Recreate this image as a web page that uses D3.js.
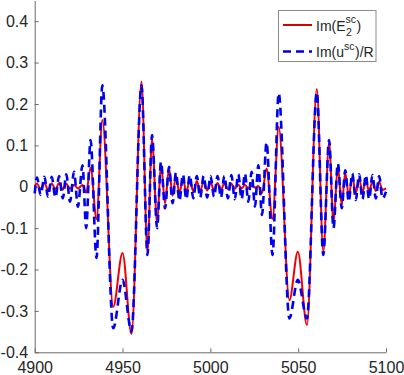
<!DOCTYPE html>
<html>
<head>
<meta charset="utf-8">
<script src="https://cdn.jsdelivr.net/npm/d3@7"></script>
<style>
  body { margin: 0; background: #fff; }
  svg { display: block; font-family: "Liberation Sans", Arial, sans-serif; }
</style>
</head>
<body>
<svg id="chart" width="404" height="375"></svg>
<script>
// x positions of the peaks / troughs
const xs = [
  4900.0, 4901.3, 4903.4, 4905.5, 4907.6, 4909.7, 4911.8, 4913.9, 4916.0, 4918.0,
  4920.1, 4922.4, 4924.6, 4927.2, 4929.3, 4931.8, 4935.2, 4938.5, 4944.7, 4950.0,
  4955.1, 4960.8, 4964.2, 4966.8, 4969.7, 4971.9, 4974.2, 4976.5, 4978.5, 4980.4,
  4982.4, 4984.4, 4986.3, 4988.3, 4990.3, 4992.3, 4994.2, 4996.2, 4998.2, 5000.1,
  5002.1, 5004.1, 5006.0, 5008.0, 5010.0, 5012.0, 5013.9, 5015.9, 5017.8, 5019.7,
  5021.6, 5023.5, 5025.4, 5027.3, 5029.4, 5032.0, 5035.4, 5038.9, 5045.0, 5049.8,
  5055.0, 5060.6, 5064.3, 5067.6, 5070.1, 5072.6, 5074.8, 5076.8, 5078.8, 5080.8,
  5082.8, 5084.7, 5086.6, 5088.5, 5090.4, 5092.3, 5094.2, 5096.1, 5098.0, 5100.0
]
// Im(E2sc)
const redVals = [
  0.002, 0.008, -0.006, 0.009, -0.007, 0.008, -0.006, 0.009, -0.007, 0.007,
  -0.005, 0.004, -0.004, 0.004, -0.014, 0.046, -0.078, 0.161, -0.290, -0.160,
  -0.356, 0.254, -0.157, 0.115, -0.088, 0.056, -0.040, 0.044, -0.022, 0.026,
  -0.016, 0.020, -0.013, 0.016, -0.012, 0.014, -0.010, 0.012, -0.009, 0.010,
  -0.008, 0.009, -0.007, 0.008, -0.006, 0.007, -0.005, 0.005, -0.004, 0.004,
  -0.003, 0.003, -0.002, 0.002, -0.016, 0.044, -0.078, 0.145, -0.274, -0.157,
  -0.334, 0.236, -0.157, 0.107, -0.088, 0.050, -0.044, 0.034, -0.022, 0.024,
  -0.016, 0.020, -0.014, 0.016, -0.012, 0.014, -0.010, 0.012, -0.008, -0.004
]
// Im(usc)/R
const blueVals = [
  -0.016, 0.022, -0.020, 0.024, -0.024, 0.024, -0.026, 0.026, -0.028, 0.030,
  -0.036, 0.036, -0.048, 0.052, -0.100, 0.113, -0.172, 0.245, -0.342, -0.225,
  -0.350, 0.245, -0.165, 0.125, -0.100, 0.060, -0.052, 0.048, -0.040, 0.034,
  -0.034, 0.030, -0.030, 0.028, -0.028, 0.026, -0.026, 0.026, -0.026, 0.026,
  -0.024, 0.026, -0.026, 0.026, -0.028, 0.028, -0.030, 0.030, -0.030, 0.032,
  -0.036, 0.036, -0.048, 0.052, -0.068, 0.107, -0.165, 0.226, -0.318, -0.225,
  -0.318, 0.228, -0.165, 0.113, -0.100, 0.056, -0.052, 0.040, -0.036, 0.032,
  -0.032, 0.030, -0.030, 0.028, -0.030, 0.028, -0.028, 0.026, -0.028, -0.012
]
const xTicks = [4900, 4950, 5000, 5050, 5100]
const yTicks = [0.4, 0.3, 0.2, 0.1, 0, -0.1, -0.2, -0.3, -0.4]
const yTickLabels = ["0.4", "0.3", "0.2", "0.1", "0", "-0.1", "-0.2", "-0.3", "-0.4"]

const svg = d3.select("#chart")
const x = d3.scaleLinear().domain([4900, 5100]).range([34.7, 386])
const y = d3.scaleLinear().domain([-0.4, 0.45]).range([352.3, 0.5])

// axes (matlab style, ticks inside)
let axisx = d3.axisBottom(x).tickValues(xTicks).tickFormat(d3.format("d"))
  .tickSizeInner(-4).tickSizeOuter(0).tickPadding(9)
let axisy = d3.axisLeft(y).tickValues(yTicks).tickFormat((d, i) => yTickLabels[i])
  .tickSizeInner(-4).tickSizeOuter(0).tickPadding(6.5)

let gx = svg.append("g").attr("transform", `translate(0,${y(-0.4)})`).call(axisx)
let gy = svg.append("g").attr("transform", `translate(${x(4900)},0)`).call(axisy)
for (let g of [gx, gy]) {
  g.select(".domain").attr("stroke", "#6b6b6b")
  g.selectAll(".tick line").attr("stroke", "#6b6b6b")
  g.selectAll("text").attr("fill", "#262626").style("font-size", "16px")
    .style("font-family", "'Liberation Sans', Arial, sans-serif")
}

// lines
let line = vals => d3.line()
  .x((d, i) => x(xs[i]))
  .y(d => y(d))
  .curve(d3.curveMonotoneX)(vals)

svg.append("path").attr("d", line(redVals))
  .attr("fill", "none").attr("stroke", "#f20000").attr("stroke-width", 2)
svg.append("path").attr("d", line(blueVals))
  .attr("fill", "none").attr("stroke", "#0000f0").attr("stroke-width", 2.6)
  .attr("stroke-dasharray", "8,5")

// legend
let lg = svg.append("g")
lg.append("rect").attr("x", 278.5).attr("y", 10.5).attr("width", 97.5).attr("height", 51)
  .attr("fill", "#fff").attr("stroke", "#8c8c8c").attr("stroke-width", 1)
lg.append("line").attr("x1", 283).attr("x2", 312).attr("y1", 25).attr("y2", 25)
  .attr("stroke", "#d40000").attr("stroke-width", 2)
lg.append("line").attr("x1", 283).attr("x2", 312).attr("y1", 51.5).attr("y2", 51.5)
  .attr("stroke", "#0000d0").attr("stroke-width", 2.6).attr("stroke-dasharray", "8,5")

let txt = (tx, ty, s, size) => lg.append("text").attr("x", tx).attr("y", ty)
  .attr("fill", "#262626").style("font-size", size + "px").text(s)

// Im(E_2^sc)
let t1 = txt(316, 30.5, "Im(E", 14)
let w1 = t1.node().getComputedTextLength()
let sup1 = txt(316 + w1, 23, "sc", 10.5)
txt(316 + w1 + 0.5, 36, "2", 10.5)
txt(316 + w1 + sup1.node().getComputedTextLength() + 0.5, 30.5, ")", 14)

// Im(u^sc)/R
let t2 = txt(316, 57, "Im(u", 14)
let w2 = t2.node().getComputedTextLength()
let sup2 = txt(316 + w2, 49.5, "sc", 10.5)
txt(316 + w2 + sup2.node().getComputedTextLength() + 0.5, 57, ")/R", 14)
</script>
</body>
</html>
